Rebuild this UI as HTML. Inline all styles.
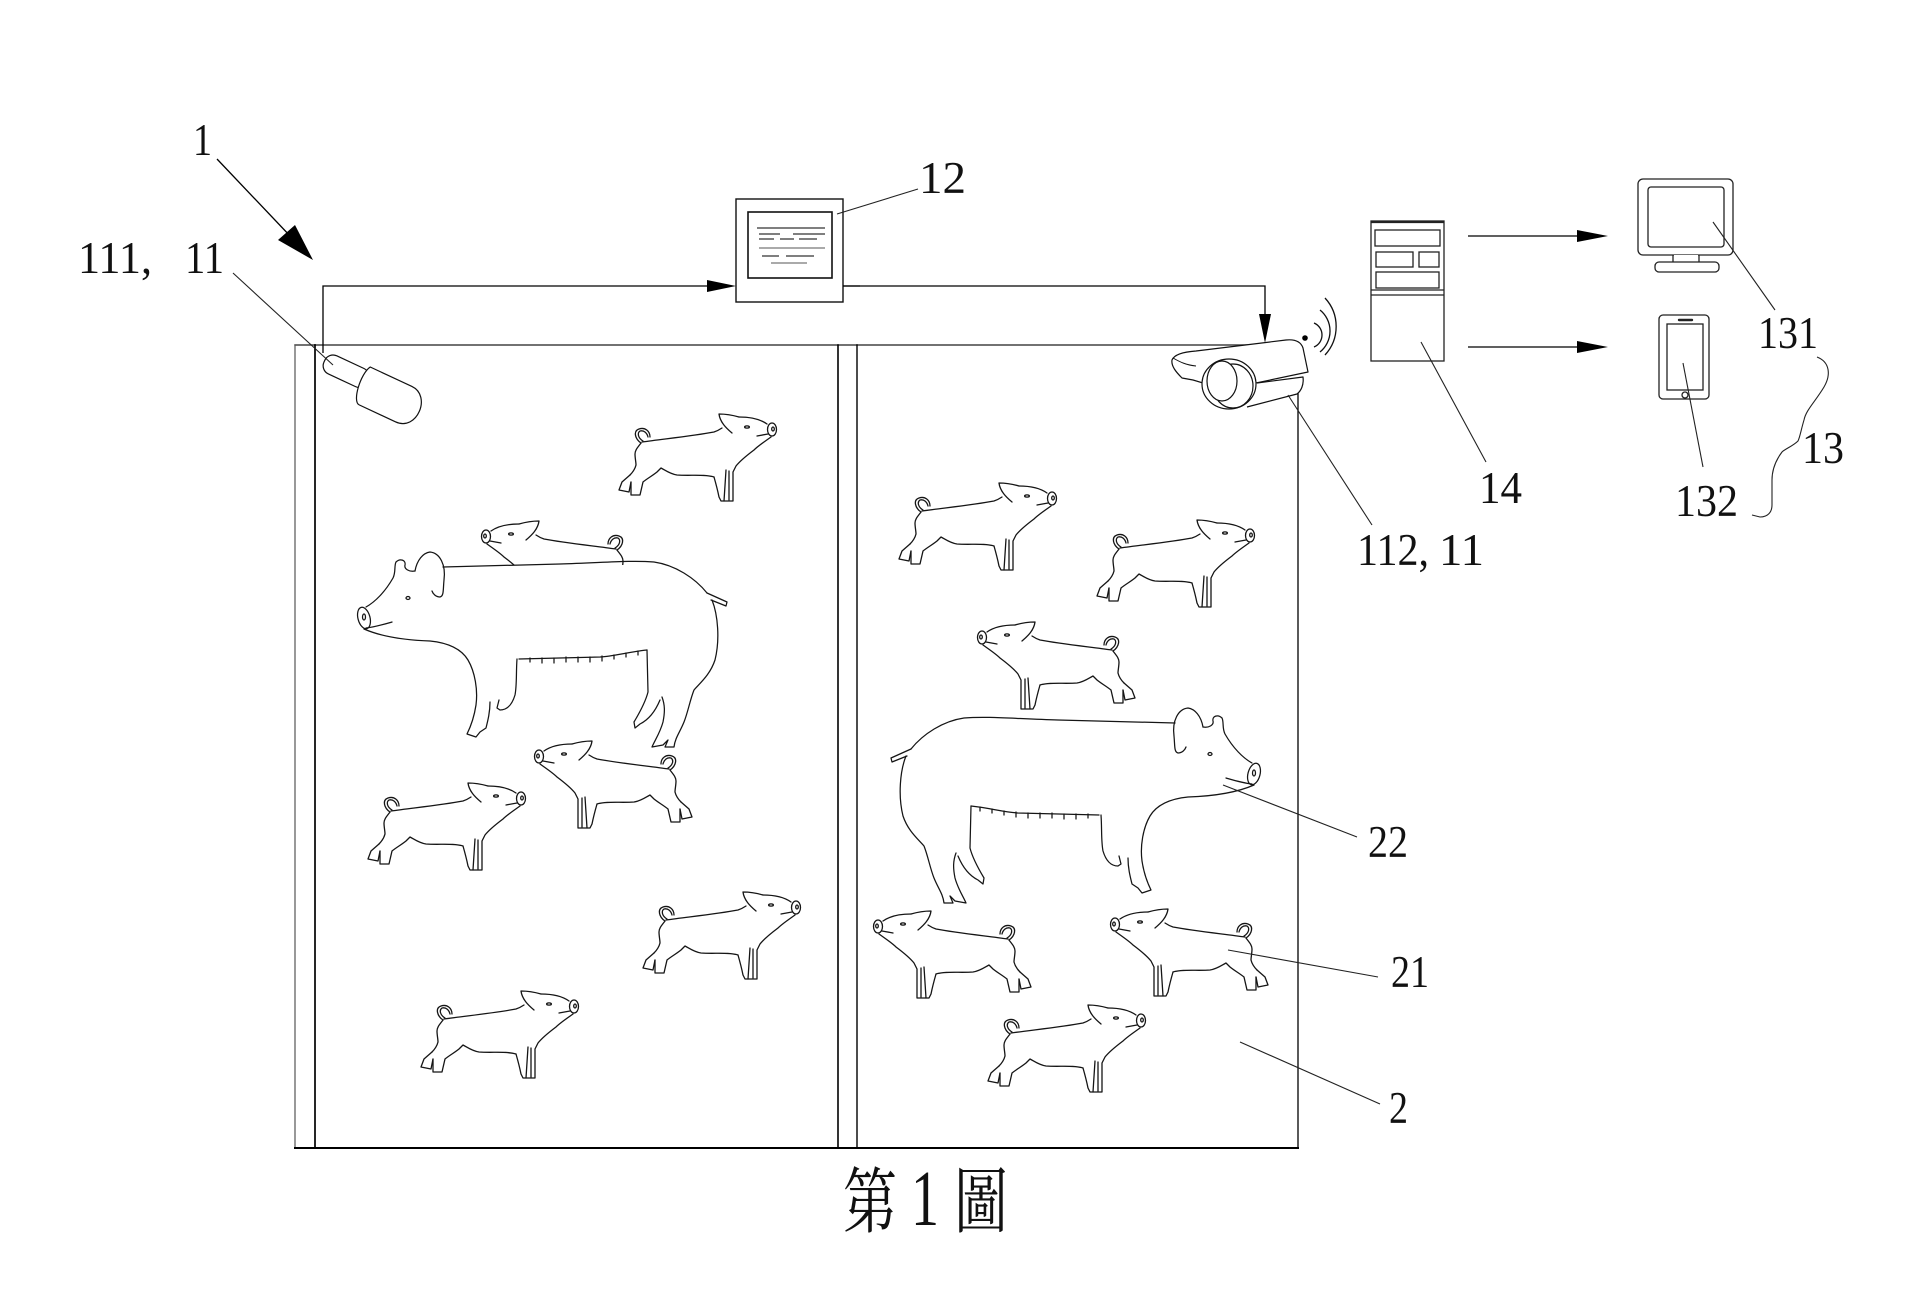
<!DOCTYPE html>
<html><head><meta charset="utf-8">
<style>
html,body{margin:0;padding:0;background:#fff;width:1920px;height:1296px;overflow:hidden}
svg{display:block}
</style></head>
<body>
<svg width="1920" height="1296" viewBox="0 0 1920 1296" xmlns="http://www.w3.org/2000/svg">
<defs>
  <g id="pg" fill="none" stroke="#151515" stroke-width="1.3" stroke-linejoin="round" stroke-linecap="round">
    <path d="M24 28 C45 25 75 22 96 18 C99 17 101 16 104 14"/>
    <path d="M114 19 C108 14 102 8 101 0 C106 0 114 1 121 3"/>
    <path d="M121 3 C132 3 142 5 149 10"/>
    <ellipse cx="154" cy="15.5" rx="4.5" ry="6.5"/>
    <ellipse cx="155" cy="15" rx="1.3" ry="2"/>
    <ellipse cx="129" cy="13" rx="2.4" ry="1.1"/>
    <path d="M139 22 L150 20"/>
    <path d="M153 23 C146 28 140 32 136 36 C128 42 122 47 118 52 L115 58 L115 87 L106 87 L108 56"/>
    <path d="M111 57 L111 86"/>
    <path d="M96 63 C98 70 100 78 101 83 L103 87 L106 87"/>
    <path d="M96 63 C86 60 72 62 59 61 C52 60 47 56 43 54 C41 56 40 57 39 58 C34 62 30 64 25 68 L22 81 L13 81 L13 68"/>
    <path d="M12 61 L4 68 L1 76 L11 78 L13 68"/>
    <path d="M23 29 C20 33 17 36 17 40 C17 44 18 48 18 51 C17 55 15 58 12 61"/>
    <path d="M23 29 C17 25 15 17 21 15 C27 13 32 17 32 23"/>
    <path d="M25 27 C20 24 19 19 22 17 C26 16 29 19 30 23"/>
  </g>
  <g id="sow" fill="none" stroke="#151515" stroke-width="1.25" stroke-linejoin="round" stroke-linecap="round">
    <ellipse cx="364" cy="618" rx="6" ry="11" transform="rotate(-15 364 618)"/>
    <ellipse cx="364" cy="617" rx="1.5" ry="3"/>
    <path d="M366 607 C375 602 385 592 393 578 C396 572 394 566 396 562 C400 558 406 560 405 565 C404 569 409 572 415 571"/>
    <path d="M415 571 C417 560 423 553 430 552 C440 553 446 565 444 580 C443 590 444 596 440 597 C436 597 433 594 432 591"/>
    <path d="M443 567 C480 566 520 565 560 564 C600 563 630 560 654 562 C675 565 695 578 707 593"/>
    <path d="M707 593 L727 602 L726 606 L711 600"/>
    <path d="M712 600 C718 615 720 640 715 660 C710 675 700 683 694 690 C690 700 688 712 684 722 C680 732 675 738 674 747 L665 747 L668 740 L663 745 L652 747 C655 740 660 733 663 722 C665 712 665 705 662 697"/>
    <path d="M660 700 C655 712 648 720 640 724 L635 728 L634 722 C640 712 646 700 648 692 L647 650"/>
    <path d="M519 659 L600 657 C615 656 628 652 647 650"/>
    <path d="M530 658 v4 M542 658 v5 M554 658 v5 M566 657 v5 M578 657 v5 M590 657 v5 M602 656 v5 M614 655 v4 M626 653 v4 M638 651 v4"/>
    <path d="M517 659 C516 672 517 685 515 695 C512 705 507 710 500 710 L497 708 L499 700"/>
    <path d="M364 629 C380 636 400 640 430 641 C450 643 462 650 468 660 C475 672 478 690 476 705 C474 718 470 728 467 734 L476 737 L480 732 L486 728 C488 720 490 712 490 702"/>
    <path d="M366 628 C375 627 385 624 392 622"/>
    <ellipse cx="408" cy="598" rx="2" ry="1.5"/>
  </g>
  <clipPath id="c2"><rect x="470" y="500" width="180" height="65"/></clipPath>
</defs>

<rect width="1920" height="1296" fill="#fff"/>

<!-- pen frame -->
<g fill="none" stroke-linecap="square">
  <path d="M295 345 L1298 345" stroke="#444" stroke-width="1.4"/>
  <path d="M295 345 L295 1148" stroke="#555" stroke-width="1.2"/>
  <path d="M315 345 L315 1148" stroke="#000" stroke-width="1.7"/>
  <path d="M838 345 L838 1148" stroke="#000" stroke-width="1.6"/>
  <path d="M857 345 L857 1148" stroke="#000" stroke-width="1.4"/>
  <path d="M1298 345 L1298 1148" stroke="#000" stroke-width="1.3"/>
  <path d="M295 1148 L1298 1148" stroke="#000" stroke-width="2"/>
</g>

<!-- connectors -->
<g fill="none" stroke="#000" stroke-width="1.3">
  <path d="M323 353 L323 286 L708 286"/>
  <path d="M843 286 L1265 286 L1265 316"/>
  <path d="M1468 236 L1580 236"/>
  <path d="M1468 347 L1580 347"/>
  <path d="M217 159 L292 238"/>
</g>
<g fill="#000">
  <polygon points="736,286 707,280 707,292"/>
  <polygon points="1265,343 1259,314 1271,314"/>
  <polygon points="1608,236 1577,230 1577,242"/>
  <polygon points="1608,347 1577,341 1577,353"/>
  <polygon points="278,240 295,225 313,260"/>
</g>

<!-- box 12 -->
<g fill="none">
  <rect x="736" y="199" width="107" height="103" stroke="#111" stroke-width="1.4" fill="#fff"/>
  <rect x="748" y="212" width="84" height="66" stroke="#111" stroke-width="1.6"/>
  <g stroke="#333" stroke-width="1.2">
    <path d="M757 228 L825 228"/>
    <path d="M759 234 L780 234 M793 234 L825 234"/>
    <path d="M759 239 L774 239 M780 239 L794 239 M799 239 L817 239"/>
    <path d="M759 248 L825 248" stroke="#777"/>
    <path d="M762 256 L779 256 M786 256 L814 256"/>
    <path d="M771 263 L807 263" stroke="#777"/>
  </g>
</g>
<path d="M843 286 L860 286" stroke="#000" stroke-width="1.3"/>

<!-- left camera 111 -->
<g transform="translate(324,362) rotate(25)" fill="#fff" stroke="#111" stroke-width="1.2">
  <rect x="0" y="-11" width="48" height="20" rx="9"/>
  <path d="M44 -15 L90 -15 C112 -15 114 24 90 24 L50 24 C42 24 38 -5 44 -15 Z"/>
</g>

<!-- right camera 112 -->
<g stroke="#111" stroke-width="1.2" stroke-linejoin="round">
  <path d="M1172 360 C1174 355 1182 352 1196 351 L1286 340 C1296 339 1301 342 1303 348 L1308 372 L1303 378 C1304 385 1301 391 1297 394 L1247 408 L1203 384 L1182 378 C1176 372 1171 366 1172 360 Z" fill="#fff" stroke="none"/>
  <path d="M1203 383 L1193 380 L1182 378 C1176 372 1171 366 1172 360 C1174 355 1182 352 1196 351 L1286 340 C1296 339 1301 342 1303 348 L1308 372 L1256 383" fill="none"/>
  <path d="M1257 383 L1303 377 C1304 385 1301 391 1297 394 L1247 407" fill="#fff"/>
  <ellipse cx="1229" cy="384" rx="27" ry="25" fill="#fff"/>
  <ellipse cx="1233" cy="386" rx="20" ry="22" fill="none"/>
  <ellipse cx="1222" cy="381" rx="15" ry="20" fill="#fff"/>
  <path d="M1173 358 C1180 362 1186 365 1196 366" fill="none" stroke-width="1"/>
</g>
<circle cx="1305" cy="338" r="2.8" fill="#000"/>
<g fill="none" stroke="#111" stroke-width="1.3">
  <path d="M1314 323 A13 13 0 0 1 1314 347"/>
  <path d="M1320 310 A27 27 0 0 1 1320 352"/>
  <path d="M1325 298 A42 42 0 0 1 1325 355"/>
</g>

<!-- server 14 -->
<g fill="none" stroke="#222" stroke-width="1.3">
  <rect x="1371" y="221" width="73" height="140" fill="#fff"/>
  <path d="M1371 222 L1444 222" stroke-width="2.2"/>
  <rect x="1375" y="230" width="65" height="16"/>
  <rect x="1376" y="252" width="37" height="15"/>
  <rect x="1419" y="252" width="20" height="15"/>
  <rect x="1376" y="272" width="63" height="16"/>
  <path d="M1371 290 L1444 290 M1371 295 L1444 295"/>
</g>

<!-- monitor 131 -->
<g fill="none" stroke="#222" stroke-width="1.3">
  <rect x="1638" y="179" width="95" height="76" rx="5" fill="#fff"/>
  <rect x="1648" y="187" width="76" height="60" rx="3"/>
  <path d="M1673 255 L1673 262 M1699 255 L1699 262"/>
  <rect x="1655" y="262" width="64" height="10" rx="4" fill="#fff"/>
  <path d="M1674 256 L1698 256" stroke="#fff" stroke-width="2"/>
</g>

<!-- phone 132 -->
<g fill="none" stroke="#222" stroke-width="1.3">
  <rect x="1659" y="315" width="50" height="84" rx="4"/>
  <rect x="1667" y="324" width="36" height="66"/>
  <path d="M1679 320 L1692 320" stroke-width="2.4" stroke-linecap="round"/>
  <circle cx="1685" cy="395" r="3" fill="#fff"/>
</g>

<!-- pigs -->
<g clip-path="url(#c2)"><use href="#pg" transform="translate(640,521) scale(-1,1)"/></g>
<use href="#sow"/>
<use href="#sow" transform="translate(1618,156) scale(-1,1)"/>

<use href="#pg" transform="translate(618,414)"/>
<use href="#pg" transform="translate(693,741) scale(-1,1)"/>
<use href="#pg" transform="translate(367,783)"/>
<use href="#pg" transform="translate(642,892)"/>
<use href="#pg" transform="translate(420,991)"/>

<use href="#pg" transform="translate(898,483)"/>
<use href="#pg" transform="translate(1096,520)"/>
<use href="#pg" transform="translate(1136,622) scale(-1,1)"/>
<use href="#pg" transform="translate(1032,911) scale(-1,1)"/>
<use href="#pg" transform="translate(1269,909) scale(-1,1)"/>
<use href="#pg" transform="translate(987,1005)"/>

<!-- leader lines -->
<g fill="none" stroke="#222" stroke-width="1.1">
  <path d="M233 273 L333 365"/>
  <path d="M837 214 L918 189"/>
  <path d="M1421 342 L1486 462"/>
  <path d="M1288 395 L1372 525"/>
  <path d="M1713 222 L1775 310"/>
  <path d="M1683 363 L1703 467"/>
  <path d="M1223 785 L1357 837"/>
  <path d="M1228 950 L1378 977"/>
  <path d="M1240 1042 L1380 1104"/>
  <path d="M1817 357 C1830 362 1831 375 1824 387 C1815 402 1806 410 1804 420 C1801 430 1800 437 1798 441 C1793 446 1785 449 1782 452 C1776 460 1772 470 1772 480 L1772 505 C1772 512 1768 517 1760 517 L1752 515"/>
</g>

<!-- labels -->
<g font-family="'Liberation Serif', serif" font-size="45" fill="#111">
  <text x="193" y="155" textLength="19" lengthAdjust="spacingAndGlyphs">1</text>
  <text x="78" y="273" textLength="74" lengthAdjust="spacingAndGlyphs">111,</text>
  <text x="185" y="273" textLength="39" lengthAdjust="spacingAndGlyphs">11</text>
  <text x="919" y="193" textLength="47" lengthAdjust="spacingAndGlyphs">12</text>
  <text x="1479" y="503" textLength="43" lengthAdjust="spacingAndGlyphs">14</text>
  <text x="1357" y="565" textLength="72" lengthAdjust="spacingAndGlyphs">112,</text>
  <text x="1439" y="565" textLength="45" lengthAdjust="spacingAndGlyphs">11</text>
  <text x="1758" y="348" textLength="60" lengthAdjust="spacingAndGlyphs">131</text>
  <text x="1675" y="516" textLength="63" lengthAdjust="spacingAndGlyphs">132</text>
  <text x="1802" y="463" textLength="42" lengthAdjust="spacingAndGlyphs">13</text>
  <text x="1368" y="857" textLength="40" lengthAdjust="spacingAndGlyphs">22</text>
  <text x="1391" y="987" textLength="38" lengthAdjust="spacingAndGlyphs">21</text>
  <text x="1389" y="1123" textLength="19" lengthAdjust="spacingAndGlyphs">2</text>
</g>

<!-- caption -->
<g fill="#111">
  <text x="843" y="1227" font-family="'Liberation Serif','Noto Serif CJK SC','Noto Serif CJK TC',serif" font-size="72" textLength="54" lengthAdjust="spacingAndGlyphs">第</text>
  <text x="911" y="1225" font-family="'Liberation Serif',serif" font-size="79" textLength="28" lengthAdjust="spacingAndGlyphs">1</text>
  <text x="954" y="1227" font-family="'Liberation Serif','Noto Serif CJK SC','Noto Serif CJK TC',serif" font-size="72" textLength="54" lengthAdjust="spacingAndGlyphs">圖</text>
</g>
</svg>
</body></html>
